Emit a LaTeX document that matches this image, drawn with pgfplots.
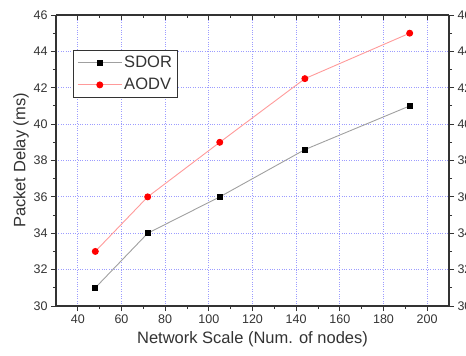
\documentclass[border=0pt]{standalone}
\usepackage{pgfplots}
\pgfplotsset{compat=1.18}
\usepackage{fontspec}
\setmainfont{Liberation Sans}
\definecolor{axgray}{HTML}{333333}
\definecolor{gridblue}{HTML}{9C9CFF}
\definecolor{sdorline}{HTML}{A0A0A0}
\definecolor{aodvline}{HTML}{FF9A9A}
\begin{document}
\begin{tikzpicture}[x=1pt,y=1pt]
\pgfplotsset{
  common/.style={
    at={(56pt,50pt)}, anchor=south west,
    width=393pt, height=291pt, scale only axis,
    xmin=30, xmax=210, ymin=30, ymax=46,
    xtick={40,60,...,200}, ytick={30,32,...,46},
    minor x tick num=1, minor y tick num=1,
    axis line style={axgray, line width=1.1pt},
    major tick length=5pt, minor tick length=3pt,
    every tick/.style={axgray, line width=0.9pt},
    tick label style={font=\fontsize{12.5}{13}\selectfont, text=axgray},
    /pgf/number format/assume math mode=true,
  }
}
% main axis: bottom + left
\begin{axis}[common,
  axis x line*=bottom, axis y line*=left,
  tick align=outside,
  grid=major,
  major grid style={gridblue, dotted, line width=0.9pt},
  xlabel={Network Scale (Num. of nodes)},
  ylabel={Packet Delay (ms)},
  label style={font=\fontsize{16.5}{17}\selectfont, text=axgray},
  xlabel style={yshift=-1pt},
  ylabel style={yshift=-2pt},
  legend style={at={(0.043,0.88)}, anchor=north west, draw=axgray, line width=0.9pt,
    font=\fontsize{16.5}{17}\selectfont, text=axgray, inner xsep=4pt, inner ysep=4pt,
    row sep=5pt},
  legend cell align=left,
  legend image code/.code={
    \draw[#1, mark repeat=2, mark phase=2] plot coordinates {(0pt,0pt) (22pt,0pt) (44pt,0pt)};
  },
]
\addplot[sdorline, line width=0.9pt, mark=square*, mark size=2.6pt,
  mark options={fill=black, draw=black}]
  coordinates {(48,31) (72,34) (105,36) (144,38.6) (192,41)};
\addlegendentry{SDOR}
\addplot[aodvline, line width=0.9pt, mark=*, mark size=3pt,
  mark options={fill=red, draw=red}]
  coordinates {(48,33) (72,36) (105,39) (144,42.5) (192,45)};
\addlegendentry{AODV}
\end{axis}
% top axis: inward ticks
\begin{axis}[common,
  axis x line*=top, axis y line=none,
  tick align=inside, xticklabels={},
]
\addplot[draw=none] coordinates {(40,30)};
\end{axis}
% right axis: outward ticks with labels
\begin{axis}[common,
  axis y line*=right, axis x line=none,
  tick align=outside,
]
\addplot[draw=none] coordinates {(40,30)};
\end{axis}
\pgfresetboundingbox
\useasboundingbox (0,0) rectangle (466,356);
\end{tikzpicture}
\end{document}
